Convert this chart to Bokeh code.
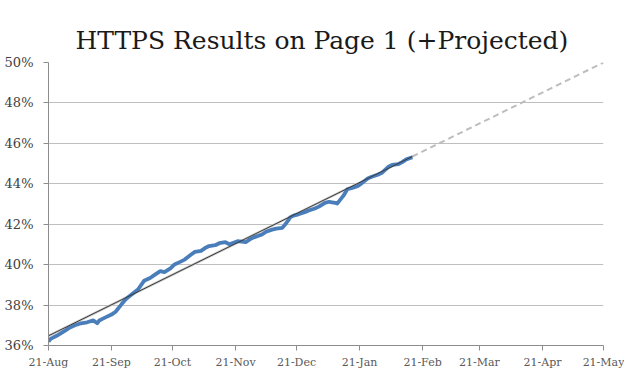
import pandas as pd
from bokeh.plotting import figure
from bokeh.models import (FixedTicker, DatetimeTickFormatter, PrintfTickFormatter,
                          Range1d, Title)
from bokeh.embed import file_html
from bokeh.resources import INLINE

# ---- data ----
start_date = "2016-08-21"
# days after 21-Aug and share of HTTPS results on page 1 (%)
days = [0, 1, 4, 8, 10, 13, 16, 19, 22, 24, 25, 27, 31, 33, 36, 38, 41, 44, 47, 50,
        52, 55, 57, 60, 62, 65, 67, 70, 72, 75, 77, 79, 82, 84, 87, 89, 93, 97, 99,
        101, 105, 107, 110, 112, 115, 117, 119, 121, 123, 126, 128, 131, 133, 136,
        138, 141, 142, 145, 147, 149, 152, 154, 157, 159, 162, 164, 167, 169, 172,
        174, 176, 179]
pct = [36.19, 36.33, 36.48, 36.72, 36.86, 37.00, 37.10, 37.15, 37.24, 37.10, 37.24,
       37.34, 37.53, 37.67, 38.05, 38.29, 38.53, 38.77, 39.20, 39.34, 39.48, 39.68,
       39.63, 39.82, 40.01, 40.15, 40.25, 40.49, 40.63, 40.68, 40.82, 40.92, 40.96,
       41.06, 41.11, 41.01, 41.16, 41.11, 41.25, 41.35, 41.49, 41.63, 41.73, 41.78,
       41.82, 42.06, 42.35, 42.44, 42.49, 42.59, 42.68, 42.78, 42.87, 43.06, 43.11,
       43.06, 43.02, 43.40, 43.73, 43.78, 43.88, 44.02, 44.26, 44.35, 44.45, 44.54,
       44.83, 44.93, 44.97, 45.07, 45.21, 45.31]
trend_days = [0, 179]
trend_pct = [36.48, 45.35]
proj_days = [179, 273]
proj_pct = [45.35, 50.0]
tick_dates = ["2016-08-21", "2016-09-21", "2016-10-21", "2016-11-21", "2016-12-21",
              "2017-01-21", "2017-02-21", "2017-03-21", "2017-04-21", "2017-05-21"]
y_ticks = [36, 38, 40, 42, 44, 46, 48, 50]
title_text = "HTTPS Results on Page 1 (+Projected)"

t0 = pd.Timestamp(start_date)
def to_dt(d):
    return [t0 + pd.Timedelta(days=v) for v in d]

x = to_dt(days)
tx = to_dt(trend_days)
px = to_dt(proj_days)
ticks_ms = [pd.Timestamp(s).value / 1e6 for s in tick_dates]

p = figure(width=624, height=371, x_axis_type="datetime",
           output_backend="svg", toolbar_location=None,
           min_border_left=48, min_border_right=21,
           min_border_top=62, min_border_bottom=22)
p.x_range = Range1d(ticks_ms[0], ticks_ms[-1])
p.y_range = Range1d(36, 50)

p.title = Title(text=title_text, align="left", offset=27, standoff=16,
                text_font="DejaVu Serif", text_font_size="25px",
                text_font_style="normal", text_color="#1a1a1a")

# lines
p.line(px, proj_pct, line_color="#bdbdbd", line_width=2, line_dash="6 4")
p.line(tx, trend_pct, line_color="#c8c8c8", line_width=2.5)
p.line(x, pct, line_color="#4a7ebb", line_width=3.8, line_join="round")
p.line(tx, trend_pct, line_color="#3a3a3a", line_width=1)

# axes
p.xaxis.ticker = FixedTicker(ticks=ticks_ms)
p.xaxis.formatter = DatetimeTickFormatter(days="%d-%b", months="%d-%b", years="%d-%b")
p.yaxis.ticker = FixedTicker(ticks=y_ticks)
p.yaxis.formatter = PrintfTickFormatter(format="%d%%")

for ax in (p.xaxis[0], p.yaxis[0]):
    ax.axis_line_color = "#8c8c8c"
    ax.major_tick_line_color = "#8c8c8c"
    ax.major_tick_out = 5
    ax.major_tick_in = 0
    ax.minor_tick_line_color = None
    ax.major_label_text_font = "DejaVu Serif"
    ax.major_label_text_color = "#595959"
p.xaxis.major_label_text_font_size = "11px"
p.yaxis.major_label_text_font_size = "13px"
p.yaxis.major_label_text_color = "#404040"
p.xaxis.major_label_standoff = 5
p.yaxis.major_label_standoff = 10

p.xgrid.grid_line_color = None
p.ygrid.grid_line_color = "#bfbfbf"
p.ygrid.grid_line_width = 1
p.outline_line_color = None

open("out.html", "w").write(file_html(p, INLINE))
